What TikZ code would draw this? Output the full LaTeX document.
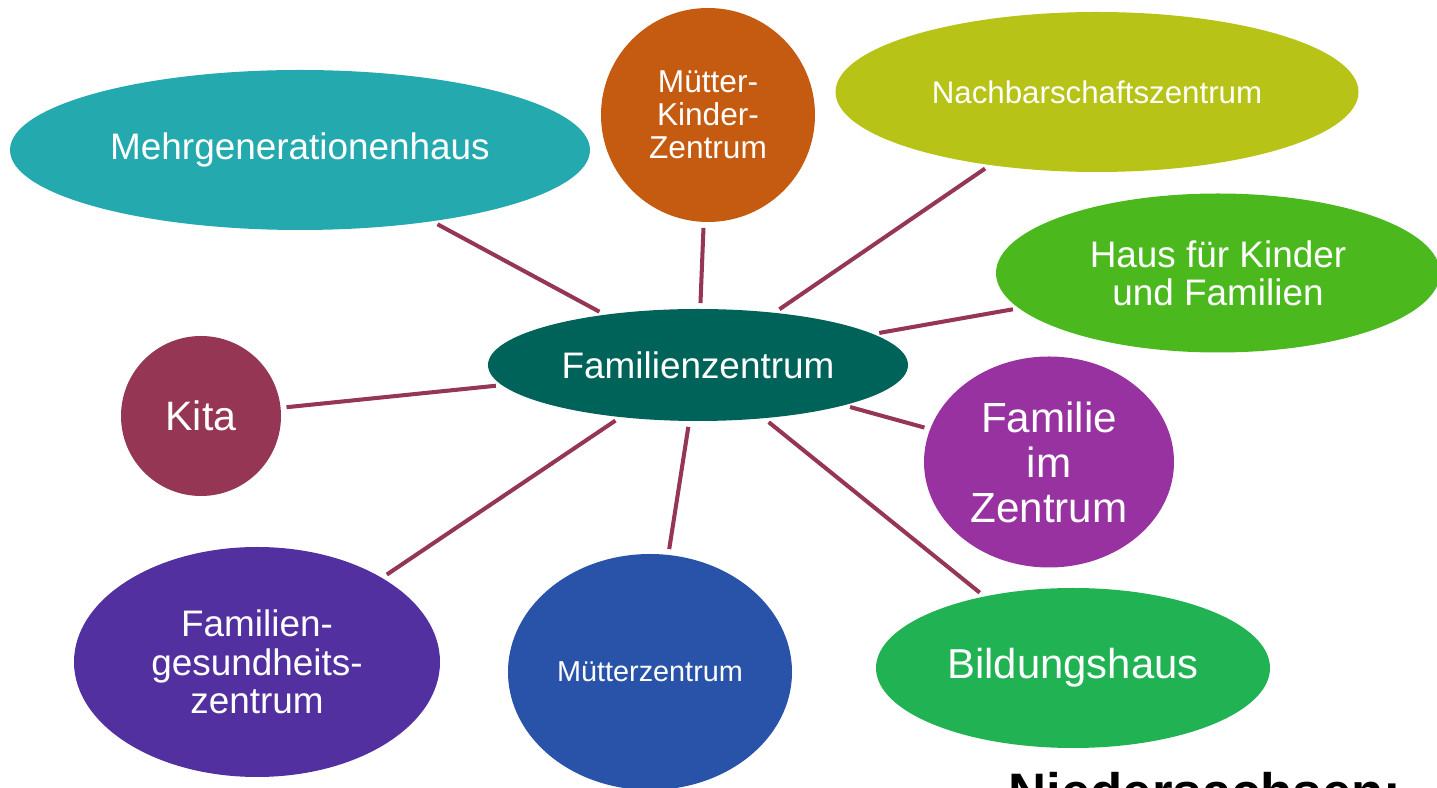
\documentclass[tikz,border=0pt]{standalone}
\usepackage{fontspec}
\setmainfont{Liberation Sans}
\usetikzlibrary{shapes.geometric}

\definecolor{hubcol}{HTML}{00635A}
\definecolor{mehrcol}{HTML}{23A9AE}
\definecolor{mkzcol}{HTML}{C55A11}
\definecolor{nachcol}{HTML}{B7C316}
\definecolor{hauscol}{HTML}{4BB91E}
\definecolor{kitacol}{HTML}{943654}
\definecolor{fizcol}{HTML}{9832A0}
\definecolor{fgzcol}{HTML}{52309F}
\definecolor{mzcol}{HTML}{2853A8}
\definecolor{bildcol}{HTML}{20B253}
\definecolor{spokecol}{HTML}{943654}

\newcommand{\txtsize}[2]{\fontsize{#1}{#2}\selectfont}

\begin{document}
\begin{tikzpicture}[bubble/.style={ellipse,inner sep=0pt,text=white,align=center},
	spoke/.style={draw=spokecol,line width=1.15pt,shorten <=1.5pt,shorten >=1.5pt}]
		\clip (0,0) rectangle (14.37,7.88);
		
		% draw centre ellipse
		\node (hub) at (6.98,4.23) [bubble,fill=hubcol,minimum width=4.2cm,minimum height=1.12cm,font=\txtsize{10.5}{11}] {Familienzentrum};
		
		% draw upper row
		\node (mehr) at (3.00,6.38) [bubble,fill=mehrcol,minimum width=5.8cm,minimum height=1.6cm,font=\txtsize{10.5}{11}] {Mehrgenerationenhaus};
		\node (mkz) at (7.08,6.73) [bubble,fill=mkzcol,minimum width=2.14cm,minimum height=2.14cm,font=\txtsize{9}{9.4}] {Mütter-\\Kinder-\\Zentrum};
		\node (nach) at (10.97,6.96) [bubble,fill=nachcol,minimum width=5.23cm,minimum height=1.6cm,font=\txtsize{8.9}{9.3}] {Nachbarschaftszentrum};
		\node (haus) at (12.18,5.15) [bubble,fill=hauscol,minimum width=4.44cm,minimum height=1.59cm,font=\txtsize{10.5}{10.8}] {Haus für Kinder\\und Familien};
		
		% draw middle row
		\node (kita) at (2.01,3.72) [bubble,fill=kitacol,minimum width=1.6cm,minimum height=1.6cm,font=\txtsize{11.7}{12}] {Kita};
		\node (fiz) at (10.49,3.26) [bubble,fill=fizcol,minimum width=2.5cm,minimum height=2.11cm,font=\txtsize{12}{12.8}] {Familie\\im\\Zentrum};
		
		% draw lower row
		\node (fgz) at (2.57,1.26) [bubble,fill=fgzcol,minimum width=3.66cm,minimum height=2.3cm,font=\txtsize{10.5}{10.9}] {Familien-\\gesundheits-\\zentrum};
		\node (mz) at (6.50,1.16) [bubble,fill=mzcol,minimum width=2.84cm,minimum height=2.36cm,font=\txtsize{8.2}{9}] {Mütterzentrum};
		\node (bild) at (10.73,1.20) [bubble,fill=bildcol,minimum width=3.94cm,minimum height=1.6cm,font=\txtsize{11.9}{12.5}] {Bildungshaus};
		
		% draw heading at bottom edge
		\node (land) at (10.08,-0.23) [anchor=base west,inner sep=0pt,font=\bfseries\txtsize{15}{18}] {Niedersachsen:};
		
		% draw lines from centre to the others
		\foreach \n in {mehr,mkz,nach,haus,kita,fiz,fgz,mz,bild}
		{
			\draw[spoke] (hub) -- (\n);
		}
	\end{tikzpicture}
\end{document}
